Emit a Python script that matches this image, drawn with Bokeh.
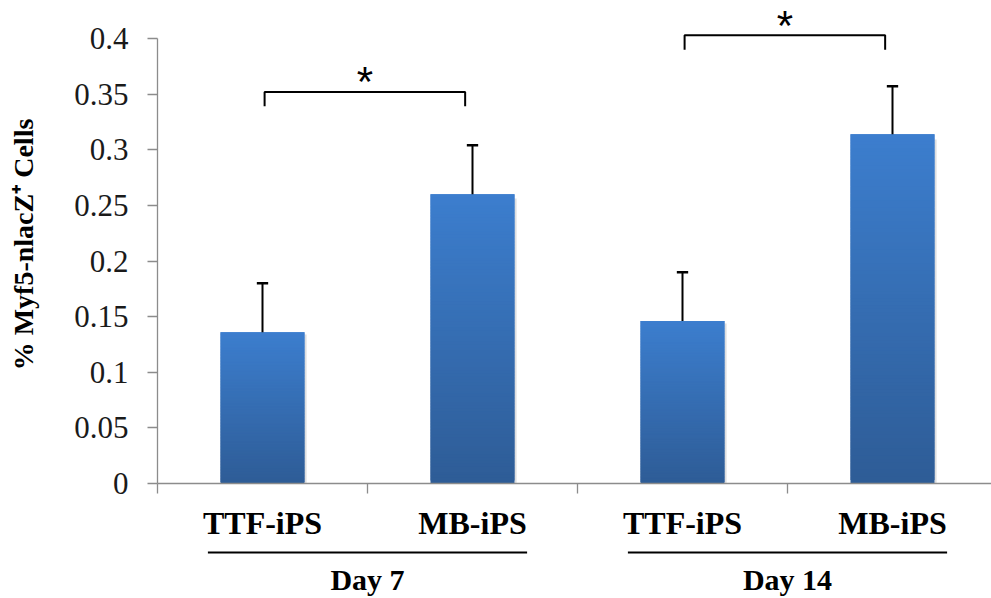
import numpy as np
from bokeh.plotting import figure
from bokeh.layouts import column
from bokeh.models import Range1d, FixedTicker
from bokeh.embed import file_html
from bokeh.resources import INLINE
from bokeh.core.properties import value

# ---------------- data ----------------
categories = ["TTF-iPS", "MB-iPS", "TTF-iPS", "MB-iPS"]
groups = ["Day 7", "Day 14"]
group_members = [(0, 1), (2, 3)]
means = [0.136, 0.260, 0.146, 0.314]
errors = [0.044, 0.044, 0.044, 0.043]
y_ticks = [0, 0.05, 0.1, 0.15, 0.2, 0.25, 0.3, 0.35, 0.4]
y_tick_labels = ["0", "0.05", "0.1", "0.15", "0.2", "0.25", "0.3", "0.35", "0.4"]
sig_pairs = [(0, 1), (2, 3)]
sig_heights = [0.352, 0.403]
sig_marks = ["*", "*"]
y_title = "% Myf5-nlacZ\u207a Cells"

# ---------------- styling ----------------
SERIF = "Liberation Serif"
AXIS_GRAY = "#8c8c8c"
TOP_RGB = np.array([60, 126, 206])
BOT_RGB = np.array([46, 92, 150])
BAR_W = 0.40
N_SLICES = 100

x_range = Range1d(0, 834 / 210)
p = figure(width=991, height=502,
           x_range=x_range, y_range=Range1d(0, 478 / 1112.5),
           output_backend="svg", toolbar_location=None,
           min_border_left=157, min_border_right=0, min_border_top=5,
           min_border_bottom=19)
p.outline_line_color = None
p.xgrid.visible = False
p.ygrid.visible = False

# x axis: only category boundary ticks
p.xaxis.ticker = FixedTicker(ticks=list(range(len(categories) + 1)))
p.xaxis.major_label_overrides = {i: "" for i in range(len(categories) + 1)}
p.xaxis.major_label_text_font_size = "1px"
p.xaxis.major_label_standoff = 0
p.xaxis.major_tick_out = 10
p.xaxis.major_tick_in = 0
p.xaxis.minor_tick_line_color = None
p.xaxis.axis_line_color = AXIS_GRAY
p.xaxis.major_tick_line_color = AXIS_GRAY
p.xaxis.axis_line_width = 1.3
p.xaxis.major_tick_line_width = 1.3

# y axis
p.yaxis.ticker = FixedTicker(ticks=y_ticks)
p.yaxis.major_label_overrides = {t: l for t, l in zip(y_ticks, y_tick_labels)}
p.yaxis.bounds = (0, 0.4)
p.yaxis.major_tick_out = 10
p.yaxis.major_tick_in = 0
p.yaxis.minor_tick_line_color = None
p.yaxis.axis_line_color = AXIS_GRAY
p.yaxis.major_tick_line_color = AXIS_GRAY
p.yaxis.axis_line_width = 1.3
p.yaxis.major_tick_line_width = 1.3
p.yaxis.major_label_text_font = SERIF
p.yaxis.major_label_text_font_size = "31px"
p.yaxis.major_label_text_color = "#1a1a1a"
p.yaxis.major_label_standoff = 19
p.yaxis.axis_label = y_title
p.yaxis.axis_label_text_font = SERIF
p.yaxis.axis_label_text_font_style = "bold"
p.yaxis.axis_label_text_font_size = "28px"
p.yaxis.axis_label_text_color = "black"
p.yaxis.axis_label_standoff = 32

centers = [i + 0.5 for i in range(len(categories))]

# faint shadow to the right of each bar
p.quad(left=[c + BAR_W / 2 for c in centers], right=[c + BAR_W / 2 + 0.01 for c in centers],
       bottom=[0] * len(means), top=[m * 0.985 for m in means],
       fill_color="#bfbfbf", fill_alpha=0.5, line_color=None)

# bars with vertical gradient (slices of each bar's own height)
L, R, B, T, C = [], [], [], [], []
for c, m in zip(centers, means):
    for k in range(N_SLICES):
        f = (k + 0.5) / N_SLICES
        rgb = BOT_RGB + (TOP_RGB - BOT_RGB) * f
        col = "#%02x%02x%02x" % tuple(int(round(v)) for v in rgb)
        L.append(c - BAR_W / 2)
        R.append(c + BAR_W / 2)
        B.append(m * k / N_SLICES)
        T.append(min(m, m * (k + 2) / N_SLICES))
        C.append(col)
p.quad(left=L, right=R, bottom=B, top=T, fill_color=C, line_color=None)

# error bars (upper only)
cap = 0.027
tops = [m + e for m, e in zip(means, errors)]
p.segment(x0=centers, y0=means, x1=centers, y1=tops, line_color="black", line_width=2)
p.segment(x0=[c - cap for c in centers], y0=tops, x1=[c + cap for c in centers], y1=tops,
          line_color="black", line_width=2.5)

# significance brackets
drop = 0.013
xs, ys, mx = [], [], []
for (a, b), h in zip(sig_pairs, sig_heights):
    x0 = centers[a] + 0.01
    x1 = centers[b] - 0.035
    xs.append([x0, x0, x1, x1])
    ys.append([h - drop, h, h, h - drop])
    mx.append((x0 + x1) / 2)
p.multi_line(xs=xs, ys=ys, line_color="black", line_width=2)
p.text(x=mx, y=sig_heights, text=sig_marks, text_font=value("Liberation Sans"),
       text_font_size="42px", text_align="center", text_baseline="alphabetic",
       text_color="black", y_offset=-10)

# ---------------- category / group label strip ----------------
q = figure(width=991, height=96, x_range=x_range, y_range=Range1d(96, 0),
           output_backend="svg", toolbar_location=None,
           x_axis_location=None, y_axis_location=None,
           min_border_left=157, min_border_right=0, min_border_top=0,
           min_border_bottom=0)
q.outline_line_color = None
q.xgrid.visible = False
q.ygrid.visible = False

q.text(x=centers, y=[20] * len(centers), text=categories, text_font=value(SERIF),
       text_font_style="bold", text_font_size="32px", text_align="center",
       text_baseline="alphabetic", text_color="black")
gcs = [(centers[a] + centers[b]) / 2 for a, b in group_members]
q.segment(x0=[g - 0.76 for g in gcs], y0=[50] * len(gcs),
          x1=[g + 0.76 for g in gcs], y1=[50] * len(gcs),
          line_color="black", line_width=2)
q.text(x=gcs, y=[77] * len(gcs), text=groups, text_font=value(SERIF),
       text_font_style="bold", text_font_size="30px", text_align="center",
       text_baseline="alphabetic", text_color="black")

layout = column(p, q, spacing=0)
open("out.html", "w").write(file_html(layout, INLINE))
